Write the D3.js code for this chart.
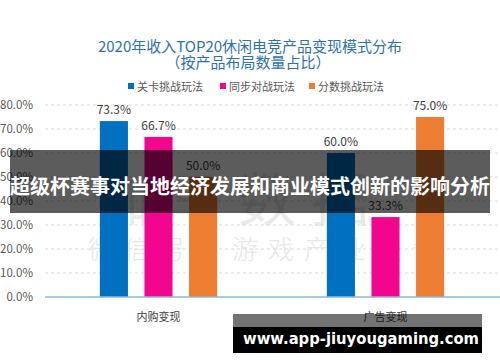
<!DOCTYPE html>
<html>
<head>
<meta charset="utf-8">
<script src="https://cdn.jsdelivr.net/npm/d3@7"></script>
<style>
  body { margin: 0; background: #fff; }
  svg { display: block; font-family: "Noto Sans CJK SC", "Noto Sans", sans-serif; }
</style>
</head>
<body>
<svg id="chart" width="500" height="362"></svg>
<script>
// data
var categories = ["内购变现", "广告变现"];
var seriesNames = ["关卡挑战玩法", "同步对战玩法", "分数挑战玩法"];
var levelValues = [73.3, 60.0];   // 关卡挑战玩法
var syncValues = [66.7, 33.3];    // 同步对战玩法
var scoreValues = [50.0, 75.0];   // 分数挑战玩法
var yTicks = [0, 10, 20, 30, 40, 50, 60, 70, 80];
var colors = ["#0070c0", "#f2058f", "#ed7d31"];

var seriesValues = [levelValues, syncValues, scoreValues];

var svg = d3.select("#chart");

var x0 = d3.scaleBand().domain(categories).range([45, 499]).padding(0);
var x1 = d3.scaleBand().domain(seriesNames).range([0, x0.bandwidth()])
  .paddingInner(0.37).paddingOuter(1.23);
var y = d3.scaleLinear().domain([0, 80]).range([297, 105]);

// faint background watermark
svg.append("text")
  .attr("x", 92).attr("y", 221)
  .attr("font-size", 58)
  .attr("letter-spacing", 15)
  .attr("fill", "#e9e9e9")
  .text("伽马数据");
svg.append("text")
  .attr("x", 88).attr("y", 259)
  .attr("font-size", 26)
  .attr("font-weight", 300)
  .attr("letter-spacing", 10)
  .attr("fill", "#e6e6e6")
  .text("微信号：游戏产业报告");

// title
svg.append("text")
  .attr("x", 250).attr("y", 52)
  .attr("text-anchor", "middle")
  .attr("font-size", 15)
  .attr("fill", "#2e72ad")
  .text("2020年收入TOP20休闲电竞产品变现模式分布");
svg.append("text")
  .attr("x", 248).attr("y", 68)
  .attr("text-anchor", "middle")
  .attr("font-size", 15)
  .attr("fill", "#2e72ad")
  .text("（按产品布局数量占比）");

// legend
var legendX = [128, 220, 309];
var legend = svg.selectAll(".legend")
  .data(seriesNames)
  .enter()
  .append("g")
  .attr("class", "legend")
  .attr("transform", (d, i) => `translate(${legendX[i]},86)`);
legend.append("rect")
  .attr("x", 0).attr("y", -3)
  .attr("width", 6).attr("height", 6)
  .attr("fill", (d, i) => colors[i]);
legend.append("text")
  .attr("x", 9).attr("y", 0)
  .attr("dominant-baseline", "central")
  .attr("font-size", 11)
  .attr("fill", "#595959")
  .text(d => d);

// gridlines
svg.selectAll(".grid")
  .data(yTicks.filter(d => d > 0))
  .enter()
  .append("line")
  .attr("x1", 45).attr("x2", 500)
  .attr("y1", d => y(d)).attr("y2", d => y(d))
  .attr("stroke", "#d9d9d9")
  .attr("stroke-dasharray", "3,3");

// y axis labels
var yAxis = d3.axisLeft(y).tickValues(yTicks).tickSize(0).tickPadding(0)
  .tickFormat(d => d.toFixed(1) + "%");
var yG = svg.append("g").attr("transform", "translate(33,0)").call(yAxis);
yG.select(".domain").remove();
yG.selectAll("text")
  .attr("font-size", 11.5)
  .attr("font-family", "'Noto Sans CJK SC', sans-serif")
  .attr("fill", "#595959");

// bars
var groups = svg.selectAll(".cat")
  .data(categories)
  .enter()
  .append("g")
  .attr("transform", d => `translate(${x0(d)},0)`);

seriesNames.forEach(function (name, s) {
  groups.append("rect")
    .attr("x", x1(name))
    .attr("width", x1.bandwidth())
    .attr("y", (d, i) => y(seriesValues[s][i]))
    .attr("height", (d, i) => y(0) - y(seriesValues[s][i]))
    .attr("fill", colors[s]);
  groups.append("text")
    .attr("x", x1(name) + x1.bandwidth() / 2)
    .attr("y", (d, i) => y(seriesValues[s][i]) - 7)
    .attr("text-anchor", "middle")
    .attr("font-size", 12)
    .attr("fill", "#404040")
    .text((d, i) => seriesValues[s][i].toFixed(1) + "%");
});

// baseline
svg.append("line")
  .attr("x1", 45).attr("x2", 500)
  .attr("y1", y(0)).attr("y2", y(0))
  .attr("stroke", "#8db9dc")
  .attr("stroke-width", 1.5);

// category labels
svg.selectAll(".catlabel")
  .data(categories)
  .enter()
  .append("text")
  .attr("x", d => x0(d) + x0.bandwidth() / 2)
  .attr("y", 316)
  .attr("text-anchor", "middle")
  .attr("dominant-baseline", "central")
  .attr("font-size", 11)
  .attr("fill", "#404040")
  .text(d => d);

// overlay banner
svg.append("rect")
  .attr("x", 10).attr("y", 150)
  .attr("width", 480).attr("height", 63)
  .attr("fill", "#000").attr("fill-opacity", 0.64);
svg.append("text")
  .attr("x", 250).attr("y", 185)
  .attr("text-anchor", "middle")
  .attr("dominant-baseline", "central")
  .attr("font-size", 20)
  .attr("font-weight", "bold")
  .attr("fill", "#fff")
  .text("超级杯赛事对当地经济发展和商业模式创新的影响分析");

// site watermark box
svg.append("rect")
  .attr("x", 233).attr("y", 314)
  .attr("width", 249).attr("height", 13)
  .attr("fill", "#000").attr("fill-opacity", 0.55);
svg.append("rect")
  .attr("x", 233).attr("y", 327)
  .attr("width", 249).attr("height", 26)
  .attr("fill", "#000");
svg.append("text")
  .attr("x", 243).attr("y", 338)
  .attr("dominant-baseline", "central")
  .attr("font-family", "'DejaVu Sans', sans-serif")
  .attr("font-size", 16)
  .attr("font-weight", "bold")
  .attr("fill", "#fff")
  .attr("textLength", 236)
  .attr("lengthAdjust", "spacingAndGlyphs")
  .text("www.app-jiuyougaming.com");
</script>
</body>
</html>
